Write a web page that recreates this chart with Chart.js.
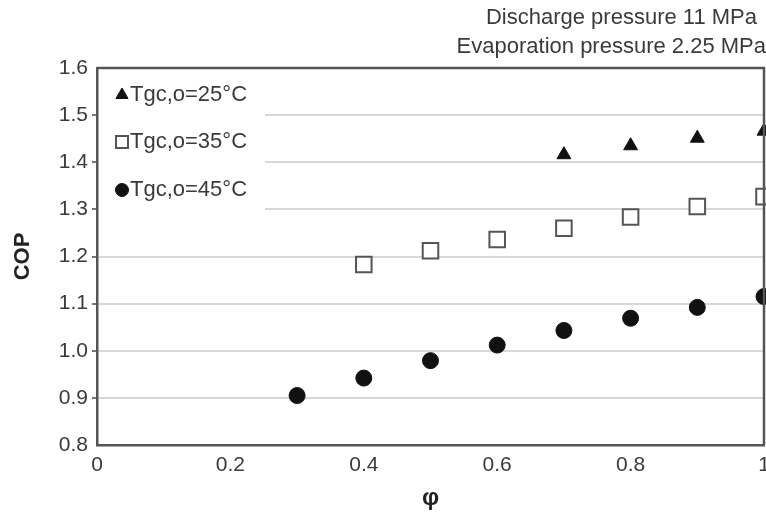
<!DOCTYPE html>
<html>
<head>
<meta charset="utf-8">
<script src="https://cdn.jsdelivr.net/npm/chart.js@4"></script>
<style>
  html, body { margin: 0; padding: 0; background: #fff; }
  #wrap { width: 766px; height: 513px; }
</style>
</head>
<body>
<div id="wrap"><canvas id="chart" width="766" height="513"></canvas></div>
<script>
// values
const seriesNames = ['Tgc,o=25°C', 'Tgc,o=35°C', 'Tgc,o=45°C'];
const phi25 = [0.7, 0.8, 0.9, 1.0];
const cop25 = [1.416, 1.435, 1.451, 1.466];
const phi35 = [0.4, 0.5, 0.6, 0.7, 0.8, 0.9, 1.0];
const cop35 = [1.183, 1.212, 1.236, 1.26, 1.284, 1.306, 1.327];
const phi45 = [0.3, 0.4, 0.5, 0.6, 0.7, 0.8, 0.9, 1.0];
const cop45 = [0.905, 0.942, 0.979, 1.012, 1.043, 1.069, 1.092, 1.115];
const titleLines = ['Discharge pressure 11 MPa', 'Evaporation pressure 2.25 MPa'];

const FONT = '"Liberation Sans", Arial, sans-serif';
const TEXT = '#3a3a3a';

const toPoints = (xs, ys) => xs.map((x, i) => ({ x: x, y: ys[i] }));

// legend + subtitle drawn by hand so it can sit inside the plot like the original
const decorPlugin = {
  id: 'decor',
  beforeDatasetsDraw(chart) {
    const ctx = chart.ctx;
    const a = chart.chartArea;
    ctx.save();
    // white legend box hides the gridlines behind it
    ctx.fillStyle = '#fff';
    ctx.fillRect(a.left + 2, a.top + 2, 166, 158);
    ctx.restore();
  },
  afterDraw(chart) {
    const ctx = chart.ctx;
    const a = chart.chartArea;
    ctx.save();
    ctx.fillStyle = TEXT;
    ctx.font = '22px ' + FONT;
    ctx.textAlign = 'right';
    ctx.textBaseline = 'middle';
    ctx.fillText(titleLines[0], 757, 18);
    ctx.fillText(titleLines[1], 766, 47);

    const ys = [a.top + 27, a.top + 74, a.top + 122];
    chart.data.datasets.forEach((ds, i) => {
      ctx.fillStyle = ds.backgroundColor;
      ctx.strokeStyle = ds.borderColor;
      ctx.lineWidth = ds.borderWidth;
      if (ds.pointStyle === 'rect') {
        ctx.beginPath();
        ctx.rect(a.left + 19, ys[i] - 6, 12, 12);
        ctx.fill();
        ctx.stroke();
      } else {
        Chart.helpers.drawPoint(ctx, {
          pointStyle: ds.pointStyle,
          radius: ds.pointStyle === 'circle' ? 6.5 : 7,
          borderWidth: ds.borderWidth
        }, a.left + 25, ys[i]);
      }
      ctx.fillStyle = TEXT;
      ctx.textAlign = 'left';
      ctx.font = '22px ' + FONT;
      ctx.fillText(seriesNames[i], a.left + 33, ys[i]);
    });
    // top and right frame lines
    ctx.strokeStyle = '#555';
    ctx.lineWidth = 2.5;
    ctx.beginPath();
    ctx.moveTo(a.left, a.top);
    ctx.lineTo(a.right, a.top);
    ctx.lineTo(a.right, a.bottom);
    ctx.stroke();
    ctx.restore();
  }
};

new Chart(document.getElementById('chart'), {
  type: 'scatter',
  data: {
    datasets: [
      {
        label: seriesNames[0],
        data: toPoints(phi25, cop25),
        pointStyle: 'triangle',
        pointRadius: 8,
        backgroundColor: '#111',
        borderColor: '#111',
        borderWidth: 1
      },
      {
        label: seriesNames[1],
        data: toPoints(phi35, cop35),
        pointStyle: 'rect',
        pointRadius: 11,
        backgroundColor: '#fff',
        borderColor: '#555',
        borderWidth: 2
      },
      {
        label: seriesNames[2],
        data: toPoints(phi45, cop45),
        pointStyle: 'circle',
        pointRadius: 8,
        backgroundColor: '#111',
        borderColor: '#111',
        borderWidth: 1
      }
    ]
  },
  options: {
    responsive: false,
    animation: false,
    clip: false,
    layout: { autoPadding: false, padding: { top: 68, right: 2, left: 0, bottom: 0 } },
    plugins: {
      legend: { display: false },
      tooltip: { enabled: false }
    },
    scales: {
      x: {
        type: 'linear',
        min: 0,
        max: 1,
        border: { display: true, color: '#555', width: 2.5 },
        grid: { display: false, drawTicks: true, tickLength: 6 },
        ticks: {
          stepSize: 0.2,
          color: TEXT,
          font: { family: FONT, size: 21 },
          padding: 2,
          maxRotation: 0,
          callback: (v) => (v === 0 || v === 1) ? String(v) : v.toFixed(1)
        },
        title: {
          display: true,
          text: 'φ',
          color: '#222',
          font: { family: FONT, size: 24, weight: 'bold' },
          padding: { top: 0, bottom: 0 }
        },
        afterFit: (s) => { s.height = 68; s.paddingLeft = 0; s.paddingRight = 0; }
      },
      y: {
        min: 0.8,
        max: 1.6,
        border: { display: true, color: '#555', width: 2.5 },
        grid: {
          color: '#d8d8d8',
          lineWidth: (c) => (c.tick && (c.tick.value === 0.8 || c.tick.value === 1.6)) ? 0 : 2,
          drawTicks: true,
          tickLength: 5,
          tickColor: '#777'
        },
        ticks: {
          stepSize: 0.1,
          color: TEXT,
          font: { family: FONT, size: 21 },
          padding: 4,
          callback: (v) => v.toFixed(1)
        },
        title: {
          display: true,
          text: 'COP',
          color: '#222',
          font: { family: FONT, size: 22, weight: 'bold' },
          padding: { top: 10, bottom: 0 }
        },
        afterFit: (s) => { s.width = 97; s.paddingTop = 0; s.paddingBottom = 0; }
      }
    }
  },
  plugins: [decorPlugin]
});
</script>
</body>
</html>
